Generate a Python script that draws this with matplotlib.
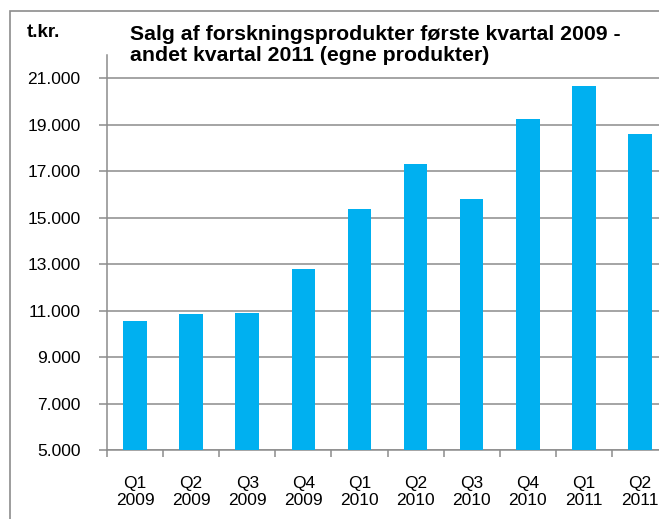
import matplotlib.pyplot as plt
from matplotlib.patches import Rectangle
from matplotlib.ticker import FuncFormatter

quarters = ['Q1\n2009', 'Q2\n2009', 'Q3\n2009', 'Q4\n2009', 'Q1\n2010',
            'Q2\n2010', 'Q3\n2010', 'Q4\n2010', 'Q1\n2011', 'Q2\n2011']
sales = [10550, 10840, 10900, 12770, 15370, 17300, 15800, 19240, 20670, 18590]
y_ticks = [5000, 7000, 9000, 11000, 13000, 15000, 17000, 19000, 21000]

plt.rcParams['font.family'] = ['Liberation Sans', 'DejaVu Sans']

fig = plt.figure(figsize=(6.59, 5.19), dpi=100)

# grey frame round the chart (cut off at the right and bottom like the original)
fig.patches.append(Rectangle((10 / 659, -0.1), 1.2, (519 - 11) / 519 + 0.1,
                             transform=fig.transFigure, fill=False,
                             edgecolor='#8c8c8c', linewidth=1.2))

# axes run past the right edge of the picture
ax = fig.add_axes([107 / 659, 69 / 519, 561 / 659, 395 / 519])

x = range(len(sales))
ax.bar(x, sales, width=0.42, color='#00b0f0', zorder=3)

ax.set_xlim(-0.5, len(sales) - 0.5)
ax.set_ylim(5000, 22000)
ax.set_yticks(y_ticks)
ax.yaxis.set_major_formatter(FuncFormatter(lambda v, p: f'{int(v):,}'.replace(',', '.')))
ax.grid(axis='y', color='#8c8c8c', linewidth=1.1, zorder=0)

ax.set_xticks(x)
ax.set_xticklabels(quarters, fontsize=12.5, linespacing=1.1)
ax.set_xticks([i - 0.5 for i in range(len(sales) + 1)], minor=True)
ax.tick_params(axis='x', which='major', length=0, pad=19)
ax.tick_params(axis='x', which='minor', length=5, color='#8c8c8c', width=1.1)
ax.tick_params(axis='y', length=6, color='#8c8c8c', width=1.1, labelsize=12.5, pad=13)

for s in ['top', 'right']:
    ax.spines[s].set_visible(False)
for s in ['left', 'bottom']:
    ax.spines[s].set_color('#8c8c8c')
    ax.spines[s].set_linewidth(1.1)

fig.text(27 / 659, 1 - 37 / 519, 't.kr.', fontsize=13.5, fontweight='bold')
fig.text(130 / 659, 1 - 25 / 519,
         'Salg af forskningsprodukter første kvartal 2009 -\nandet kvartal 2011 (egne produkter)',
         fontsize=15.3, fontweight='bold', va='top', linespacing=1.15)

fig.savefig('out.png', dpi=100)
